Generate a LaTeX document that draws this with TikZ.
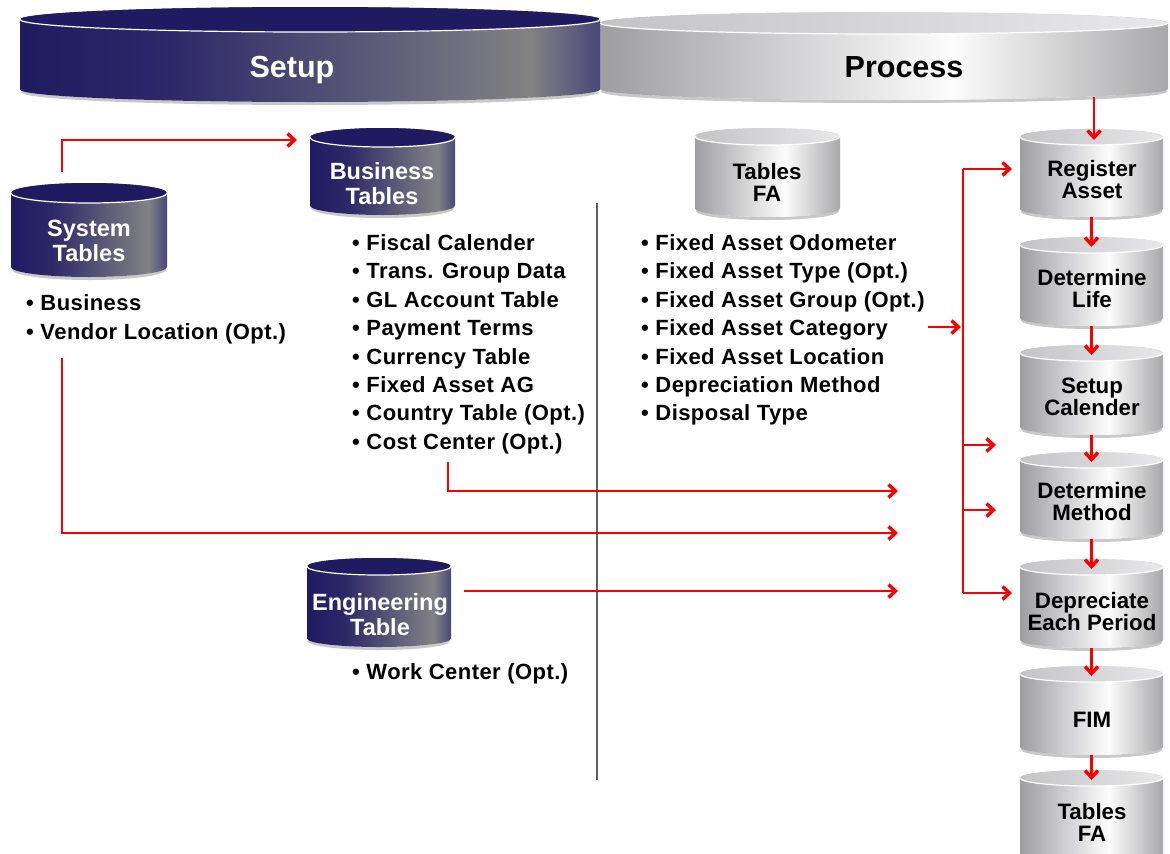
\documentclass[tikz,border=0pt]{standalone}
\usepackage{fontspec}
\setmainfont{Liberation Sans}
\usetikzlibrary{arrows.meta}
\definecolor{navyA}{RGB}{32,27,97}
\definecolor{navyB}{RGB}{45,40,104}
\definecolor{navyR}{RGB}{75,70,120}
\definecolor{grayM}{RGB}{130,130,132}
\definecolor{gL}{RGB}{158,158,160}
\definecolor{gM}{RGB}{205,205,207}
\definecolor{gW}{RGB}{252,252,252}
\definecolor{gR}{RGB}{168,168,170}
\definecolor{gT1}{RGB}{196,196,198}
\definecolor{gT2}{RGB}{232,232,234}
\definecolor{arr}{RGB}{250,0,0}
\definecolor{sepc}{RGB}{95,95,95}
\definecolor{shadowc}{RGB}{200,200,200}
\pgfdeclarehorizontalshading{navybody}{100bp}{color(0bp)=(navyA); color(25bp)=(navyA); color(38bp)=(navyB); color(69bp)=(grayM); color(75bp)=(navyR); color(100bp)=(navyR)}
\pgfdeclarehorizontalshading{navytop}{100bp}{color(0bp)=(navyA); color(100bp)=(navyA)}
\pgfdeclarehorizontalshading{graybody}{100bp}{color(0bp)=(gL); color(25bp)=(gL); color(40bp)=(gM); color(56bp)=(gW); color(75bp)=(gR); color(100bp)=(gR)}
\pgfdeclarehorizontalshading{graytop}{100bp}{color(0bp)=(gT1); color(25bp)=(gT1); color(75bp)=(gT2); color(100bp)=(gT2)}
% name, L, R, T, B, ry, body shading, top shading
\newcommand\drawcyl[8]{%
  \pgfmathsetmacro\cx{(#2+#3)/2}%
  \pgfmathsetmacro\rx{(#3-#2)/2}%
  \pgfmathsetmacro\yt{#4+#6}%
  \pgfmathsetmacro\yb{#5-#6}%
  \draw[shadowc,line width=3pt] (#2+2,\yb+1.5) arc[start angle=180,end angle=0,x radius=\rx-2,y radius=#6];
  \shade[shading=#7] (#2,\yt) -- (#2,\yb) arc[start angle=180,end angle=0,x radius=\rx,y radius=#6] -- (#3,\yt) arc[start angle=0,end angle=-180,x radius=\rx,y radius=#6] -- cycle;
  \shade[shading=#8] (\cx,\yt) ellipse[x radius=\rx,y radius=#6];
  \draw[white,line width=1.2pt] (#3,\yt) arc[start angle=0,end angle=180,x radius=\rx,y radius=#6];
  \coordinate (#1-b) at (\cx,#5);
  \coordinate (#1-t) at (\cx,#4+10);
}
\begin{document}
\begin{tikzpicture}[x=1pt,y=-1pt,
  hdr/.style={font=\fontsize{30.5}{32}\selectfont\bfseries, inner sep=0pt, text height=22pt, text depth=0pt},
  cyltxt/.style={font=\fontsize{23.5}{25}\selectfont\bfseries, align=center, inner sep=0pt},
  proctxt/.style={font=\fontsize{22.3}{22}\selectfont\bfseries, align=center, inner sep=0pt},
  item/.style={font=\fontsize{22}{24}\selectfont\bfseries\addfontfeatures{LetterSpace=2}, anchor=west, inner sep=0pt, text height=16pt, text depth=1pt},
  redline/.style={draw=arr, line width=2.8pt},
  redarr/.style={draw=arr, line width=2.8pt, -{Straight Barb[length=7pt,width=13pt,line width=3.4pt]}}
]
\useasboundingbox (0,0) rectangle (1170,854);
\fill[white] (0,0) rectangle (1170,854);

% header cylinders
\drawcyl{proc}{600}{1168}{12}{100}{11}{graybody}{graytop}
\drawcyl{setup}{20}{600}{7}{102}{12.5}{navybody}{navytop}
\node[hdr, white] (setupT) at (292,66) {Setup};
\node[hdr, black] (procT) at (904,66) {Process};

% separator
\draw[sepc, line width=2pt] (597,203) -- (597,780);

% setup cylinders
\drawcyl{sys}{11}{167}{183}{277}{10}{navybody}{navytop}
\node[cyltxt, white] (sys) at (89,240.5) {System\\Tables};
\drawcyl{bus}{310}{455}{128}{215}{9.5}{navybody}{navytop}
\node[cyltxt, white] (bus) at (382,183.5) {Business\\Tables};
\drawcyl{eng}{307}{451}{558}{647}{8.5}{navybody}{navytop}
\node[cyltxt, white] (eng) at (380,614.5) {Engineering\\Table};
\drawcyl{tfa}{695}{840}{128}{217}{8.5}{graybody}{graytop}
\node[proctxt, black] (tfa) at (767,182) {Tables\\FA};

% process column
\drawcyl{reg}{1020}{1163}{129}{217}{8}{graybody}{graytop}
\node[proctxt] (reg) at (1092,180) {Register\\Asset};
\drawcyl{life}{1020}{1163}{237}{326}{8}{graybody}{graytop}
\node[proctxt] (life) at (1092,289) {Determine\\Life};
\drawcyl{cal}{1020}{1163}{345}{435}{8}{graybody}{graytop}
\node[proctxt] (cal) at (1092,397) {Setup\\Calender};
\drawcyl{meth}{1020}{1163}{452}{539}{8}{graybody}{graytop}
\node[proctxt] (meth) at (1092,501.5) {Determine\\Method};
\drawcyl{dep}{1020}{1163}{559}{648}{8}{graybody}{graytop}
\node[proctxt] (dep) at (1092,611.5) {Depreciate\\Each Period};
\drawcyl{fim}{1020}{1163}{666}{755}{8}{graybody}{graytop}
\node[proctxt] (fim) at (1092,720) {FIM};
\drawcyl{tfb}{1020}{1163}{770}{862}{8}{graybody}{graytop}
\node[proctxt] (tfb) at (1092,822) {Tables\\FA};

% bullet lists
\node[item] (s0) at (26,303) {• Business};
\node[item] (s1) at (26,332) {• Vendor Location (Opt.)};
\foreach \t [count=\i from 0] in {Fiscal Calender,Trans. Group Data,GL Account Table,Payment Terms,Currency Table,Fixed Asset AG,Country Table (Opt.),Cost Center (Opt.)}
  \node[item] (b\i) at (352,{243+28.4*\i}) {• \t};
\foreach \t [count=\i from 0] in {Fixed Asset Odometer,Fixed Asset Type (Opt.),Fixed Asset Group (Opt.),Fixed Asset Category,Fixed Asset Location,Depreciation Method,Disposal Type}
  \node[item] (f\i) at (641,{243+28.4*\i}) {• \t};
\node[item] (w0) at (352,672) {• Work Center (Opt.)};

% connector coordinates
\coordinate (sysUp) at (62,172);
\coordinate (busL) at (297,140);
\coordinate (sysList) at (62,358);
\coordinate (e2) at (898,533);
\coordinate (ccList) at (448,462);
\coordinate (e1) at (898,491);
\coordinate (engR) at (464,591);
\coordinate (e3) at (898,591);
\coordinate (faList) at (928,327);
\coordinate (busV) at (961,327);
\coordinate (vT) at (963,169);
\coordinate (vB) at (963,593);
\coordinate (v1) at (963,445);
\coordinate (v2) at (963,510);
\coordinate (a0) at (1012,169);
\coordinate (a1) at (996,445);
\coordinate (a2) at (996,510);
\coordinate (a3) at (1012,593);
\coordinate (procArr) at (1094,97);
\coordinate (regTop) at (1094,140);

% connectors
\draw[redarr] (sysUp) |- (busL);
\draw[redarr] (sysList) |- (e2);
\draw[redarr] (ccList) |- (e1);
\draw[redarr] (engR) -- (e3);
\draw[redarr] (faList) -- (busV);
\draw[redline] (vT) -- (vB);
\draw[redarr] (vT) -- (a0);
\draw[redarr] (v1) -- (a1);
\draw[redarr] (v2) -- (a2);
\draw[redarr] (vB) -- (a3);
\draw[redarr] (procArr) -- (regTop);
\draw[redarr] (reg-b) -- (life-t);
\draw[redarr] (life-b) -- (cal-t);
\draw[redarr] (cal-b) -- (meth-t);
\draw[redarr] (meth-b) -- (dep-t);
\draw[redarr] (dep-b) -- (fim-t);
\draw[redarr] (fim-b) -- (tfb-t);
\end{tikzpicture}
\end{document}
